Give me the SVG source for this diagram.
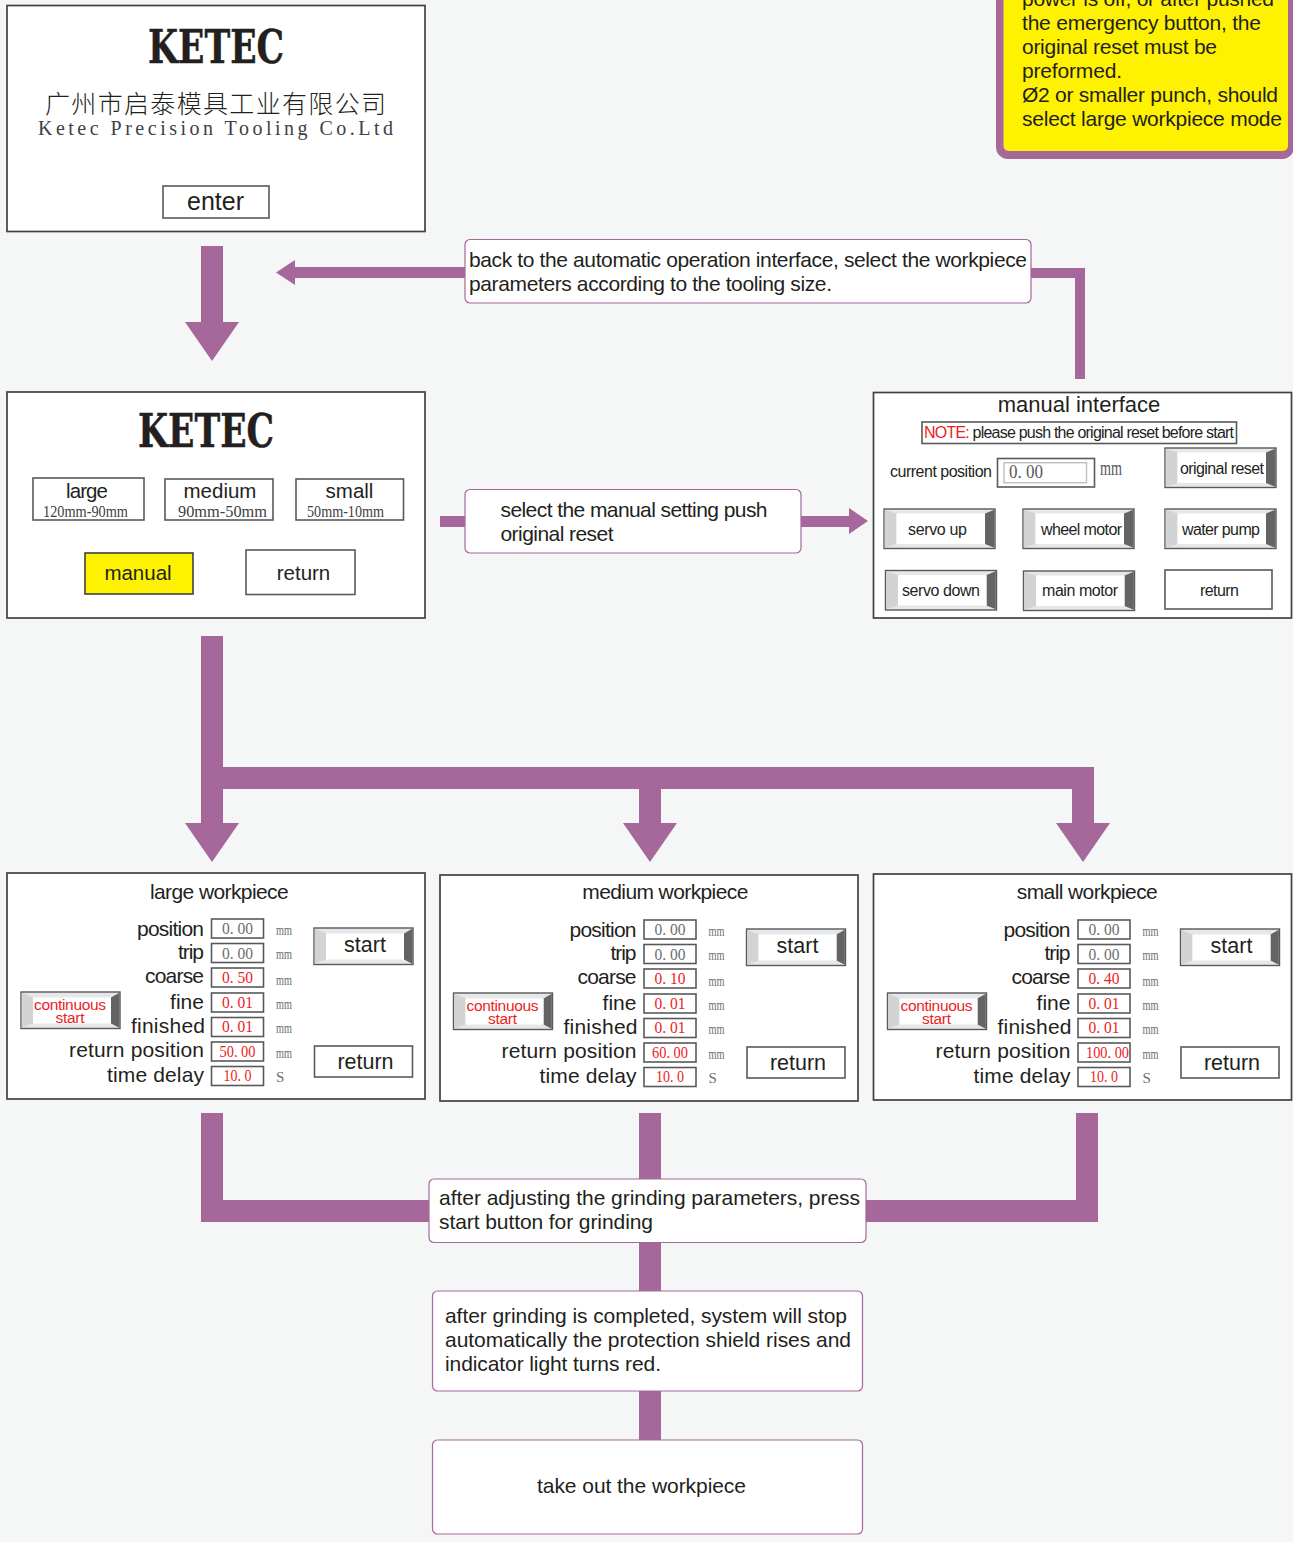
<svg xmlns="http://www.w3.org/2000/svg" width="1293" height="1542" viewBox="0 0 1293 1542">
<style>
text{font-family:"Liberation Sans",Arial,sans-serif;fill:#231f20}
.panel{fill:#fff;stroke:#414042;stroke-width:1.7}
.box{fill:#fff;stroke:#58595b;stroke-width:1.6}
.call{fill:#fff;stroke:#a6679a;stroke-width:1.2}
.flow{fill:#a6679a;stroke:none}
.ser{font-family:"Liberation Serif","Times New Roman",serif}
.logo{font-family:"DejaVu Serif",serif;font-weight:bold;font-size:46px;stroke:#231f20;stroke-width:.5}
.c21{font-size:21px}
.lab{font-size:21px}
.val{font-family:"Liberation Serif",serif;font-size:17px;text-anchor:middle;fill:#6d6e71}
.red{fill:#ed1c24}
.unit{font-family:"Liberation Serif",serif;font-size:15px;fill:#6d6e71}
.mid{text-anchor:middle}
.t20{font-size:20.5px}
.t21{font-size:21.5px}
.t16{font-size:16px}
.sub{font-family:"Liberation Serif",serif;font-size:17px;fill:#414042}
.bl{fill:#d1d3d4}.br{fill:#636466}.bt{fill:#e6e7e8}
</style>
<defs>
<g id="bw">
<rect x="0" y="0" width="99" height="36.5" fill="#e6e7e8" stroke="#58595b" stroke-width="1.4"/>
<polygon class="bl" points="0.7,0.7 12,5.5 12,31.5 0.7,35.8"/>
<polygon class="br" points="98.3,0.7 90,5.5 90,31.5 98.3,35.8"/>
<rect x="12" y="5.5" width="78" height="26" fill="#fff"/>
</g>
<g id="bm">
<rect x="0" y="0" width="111" height="39.5" fill="#e6e7e8" stroke="#58595b" stroke-width="1.4"/>
<polygon class="bl" points="0.7,0.7 12.5,4.5 12.5,35 0.7,38.8"/>
<polygon class="br" points="110.3,0.7 101,4.5 101,35 110.3,38.8"/>
<rect x="12.5" y="4.5" width="88.5" height="30.5" fill="#fff"/>
</g>
<g id="row-boxes">
<rect class="box" x="211.5" y="919" width="52" height="19"/>
<rect class="box" x="211.5" y="943.5" width="52" height="19"/>
<rect class="box" x="211.5" y="968" width="52" height="19"/>
<rect class="box" x="211.5" y="993" width="52" height="19"/>
<rect class="box" x="211.5" y="1017.5" width="52" height="19"/>
<rect class="box" x="211.5" y="1042" width="52" height="19"/>
<rect class="box" x="211.5" y="1066.5" width="52" height="19"/>
<text class="lab" x="137" y="936" textLength="67">position</text>
<text class="lab" x="178" y="959" textLength="26">trip</text>
<text class="lab" x="145" y="983" textLength="59">coarse</text>
<text class="lab" x="170" y="1009" textLength="34">fine</text>
<text class="lab" x="131" y="1033" textLength="74">finished</text>
<text class="lab" x="69" y="1057" textLength="135">return position</text>
<text class="lab" x="107" y="1082" textLength="97">time delay</text>
<text class="unit" x="276" y="935" textLength="16" lengthAdjust="spacingAndGlyphs">mm</text>
<text class="unit" x="276" y="959" textLength="16" lengthAdjust="spacingAndGlyphs">mm</text>
<text class="unit" x="276" y="985" textLength="16" lengthAdjust="spacingAndGlyphs">mm</text>
<text class="unit" x="276" y="1009" textLength="16" lengthAdjust="spacingAndGlyphs">mm</text>
<text class="unit" x="276" y="1033" textLength="16" lengthAdjust="spacingAndGlyphs">mm</text>
<text class="unit" x="276" y="1058" textLength="16" lengthAdjust="spacingAndGlyphs">mm</text>
<text class="unit" x="276" y="1082">S</text>
<text class="val" x="237.5" y="934" textLength="31" lengthAdjust="spacingAndGlyphs">0. 00</text>
<text class="val" x="237.5" y="958.5" textLength="31" lengthAdjust="spacingAndGlyphs">0. 00</text>
<use href="#bw" x="314" y="928"/>
<text class="mid t21" x="365" y="952">start</text>
<rect class="box" x="314.5" y="1046" width="98" height="31"/>
<text class="mid t21" x="365.500" y="1069">return</text>
<use href="#bw" x="21" y="992"/>
<text class="mid" x="70" y="1010" textLength="72" style="font-size:15.5px;fill:#ed1c24">continuous</text>
<text class="mid" x="70" y="1023" textLength="29" style="font-size:15.5px;fill:#ed1c24">start</text>
</g>
</defs>
<rect width="1293" height="1542" fill="#f4f7f6"/>
<g id="connectors">
<path class="flow" d="M201 246H223V322H239L212 361L185 322H201Z"/>
<path class="flow" d="M1085 379H1075V278H295V285L276 272.500L295 260V267H465V278H1031V268H1085Z"/>
<rect class="flow" x="440" y="516" width="25" height="11"/>
<path class="flow" d="M801 516H849V508L868 521L849 534V527H801Z"/>
<path class="flow" d="M201 636H223V767H1094V823H1110L1083 862L1056 823H1072V789H661V823H677L650 862L623 823H639V789H223V823H239L212 862L185 823H201Z"/>
<path class="flow" d="M201 1113H223V1200H429V1222H201Z"/>
<rect class="flow" x="639" y="1113" width="22" height="330"/>
<path class="flow" d="M1076 1113H1098V1222H866V1200H1076Z"/>
</g>
<g id="note">
<rect x="996" y="-30" width="298" height="189" rx="12" fill="#a6679a"/>
<rect x="1003.500" y="-30" width="284.500" height="181" rx="5" fill="#fff200"/>
<text class="c21" x="1022" y="6" textLength="252">power is off, or after pushed</text>
<text class="c21" x="1022" y="30" textLength="239">the emergency button, the</text>
<text class="c21" x="1022" y="54" textLength="195">original reset must be</text>
<text class="c21" x="1022" y="78" textLength="100">preformed.</text>
<text class="c21" x="1022" y="102" textLength="256">Ø2 or smaller punch, should</text>
<text class="c21" x="1022" y="126" textLength="260">select large workpiece mode</text>
</g>
<g id="start-screen">
<rect class="panel" x="7" y="5.500" width="418" height="226"/>
<text class="logo" x="148" y="63" textLength="136" lengthAdjust="spacingAndGlyphs">KETEC</text>
<text x="45" y="113" textLength="341" lengthAdjust="spacing" style="font-family:'Noto Sans CJK SC',sans-serif;font-size:25px;font-weight:300">广州市启泰模具工业有限公司</text>
<text class="ser" x="38" y="135" textLength="355" lengthAdjust="spacing" style="font-size:20px;fill:#414042">Ketec Precision Tooling Co.Ltd</text>
<rect class="box" x="163" y="186" width="106" height="32"/>
<text class="mid" x="215.500" y="210" style="font-size:25px">enter</text>
</g>
<g id="back-note">
<rect class="call" x="465" y="239.500" width="566" height="63.500" rx="5"/>
<text class="c21" x="469" y="267" textLength="558">back to the automatic operation interface, select the workpiece</text>
<text class="c21" x="469" y="291" textLength="363">parameters according to the tooling size.</text>
</g>
<g id="select-screen">
<rect class="panel" x="7" y="392" width="418" height="226"/>
<text class="logo" x="138" y="447" textLength="136" lengthAdjust="spacingAndGlyphs">KETEC</text>
<rect class="box" x="33" y="478" width="111" height="42"/>
<text class="mid t20" x="87" y="498" textLength="42">large</text>
<text class="sub" x="43" y="517" textLength="85" lengthAdjust="spacingAndGlyphs">120mm-90mm</text>
<rect class="box" x="165" y="479" width="108" height="41"/>
<text class="mid t20" x="220" y="498">medium</text>
<text class="sub" x="178" y="517" textLength="89" lengthAdjust="spacingAndGlyphs">90mm-50mm</text>
<rect class="box" x="296" y="479" width="107.500" height="41"/>
<text class="mid t20" x="349.500" y="498">small</text>
<text class="sub" x="307" y="517" textLength="77" lengthAdjust="spacingAndGlyphs">50mm-10mm</text>
<rect x="85" y="553" width="108" height="41" fill="#fff200" stroke="#414042" stroke-width="1.600"/>
<text class="mid t20" x="138" y="580">manual</text>
<rect class="box" x="246" y="550" width="109" height="44.500"/>
<text class="mid t20" x="303.500" y="580">return</text>
</g>
<g id="select-note">
<rect class="call" x="465" y="489.500" width="336" height="63.500" rx="5"/>
<text class="c21" x="500.500" y="517" textLength="267">select the manual setting push</text>
<text class="c21" x="500.500" y="541" textLength="113">original reset</text>
</g>
<g id="manual-screen">
<rect class="panel" x="873.500" y="392.500" width="418" height="225.500"/>
<text class="mid" x="1079" y="412" style="font-size:22px">manual interface</text>
<rect class="box" x="922" y="422" width="314.500" height="21.500"/>
<text x="924" y="438" class="t16" textLength="310"><tspan style="fill:#ed1c24">NOTE:</tspan> please push the original reset before start</text>
<text x="890" y="477" class="t16" textLength="102">current position</text>
<rect class="box" x="997.500" y="458.500" width="97" height="28.500"/>
<rect x="1004" y="462.700" width="82.500" height="20" fill="#fff" stroke="#bcbec0" stroke-width="1.400"/>
<text class="ser" x="1009" y="478" textLength="34" lengthAdjust="spacingAndGlyphs" style="font-size:19px;fill:#58595b">0. 00</text>
<text class="ser" x="1100" y="475" textLength="22" lengthAdjust="spacingAndGlyphs" style="font-size:20px;fill:#58595b">mm</text>
<use href="#bm" x="1165" y="448"/>
<text class="t16" x="1180" y="474" textLength="84">original reset</text>
<use href="#bm" x="884" y="509"/>
<text class="t16" x="908" y="535" textLength="59">servo up</text>
<use href="#bm" x="1023" y="509"/>
<text class="t16" x="1041" y="535" textLength="81">wheel motor</text>
<use href="#bm" x="1165" y="509"/>
<text class="t16" x="1182" y="535" textLength="78">water pump</text>
<use href="#bm" x="885.500" y="570.500"/>
<text class="t16" x="902" y="596" textLength="78">servo down</text>
<use href="#bm" x="1023.500" y="571"/>
<text class="t16" x="1042" y="596" textLength="76">main motor</text>
<rect class="box" x="1165" y="570" width="107" height="39"/>
<text class="t16" x="1200" y="596" textLength="39">return</text>
</g>
<g id="large-workpiece">
<rect class="panel" x="7" y="873" width="418" height="226"/>
<text class="mid" x="219" y="899" style="font-size:21px;letter-spacing:-.6px">large workpiece</text>
<use href="#row-boxes"/>
<text class="val red" x="237.500" y="983" textLength="31" lengthAdjust="spacingAndGlyphs">0. 50</text>
<text class="val red" x="237.500" y="1008" textLength="31" lengthAdjust="spacingAndGlyphs">0. 01</text>
<text class="val red" x="237.500" y="1032" textLength="31" lengthAdjust="spacingAndGlyphs">0. 01</text>
<text class="val red" x="237.500" y="1057" textLength="36" lengthAdjust="spacingAndGlyphs">50. 00</text>
<text class="val red" x="237.500" y="1081" textLength="28" lengthAdjust="spacingAndGlyphs">10. 0</text>
</g>
<g id="medium-workpiece">
<rect class="panel" x="440" y="875" width="418" height="226"/>
<text class="mid" x="665" y="899" style="font-size:21px;letter-spacing:-.6px">medium workpiece</text>
<g transform="translate(432.500 1)">
<use href="#row-boxes"/>
<text class="val red" x="237.500" y="983" textLength="31" lengthAdjust="spacingAndGlyphs">0. 10</text>
<text class="val red" x="237.500" y="1008" textLength="31" lengthAdjust="spacingAndGlyphs">0. 01</text>
<text class="val red" x="237.500" y="1032" textLength="31" lengthAdjust="spacingAndGlyphs">0. 01</text>
<text class="val red" x="237.500" y="1057" textLength="36" lengthAdjust="spacingAndGlyphs">60. 00</text>
<text class="val red" x="237.500" y="1081" textLength="28" lengthAdjust="spacingAndGlyphs">10. 0</text>
</g>
</g>
<g id="small-workpiece">
<rect class="panel" x="873.500" y="874" width="418" height="226"/>
<text class="mid" x="1087" y="899" style="font-size:21px;letter-spacing:-.6px">small workpiece</text>
<g transform="translate(866.500 1)">
<use href="#row-boxes"/>
<text class="val red" x="237.500" y="983" textLength="31" lengthAdjust="spacingAndGlyphs">0. 40</text>
<text class="val red" x="237.500" y="1008" textLength="31" lengthAdjust="spacingAndGlyphs">0. 01</text>
<text class="val red" x="237.500" y="1032" textLength="31" lengthAdjust="spacingAndGlyphs">0. 01</text>
<text class="val red" x="241" y="1057" textLength="43" lengthAdjust="spacingAndGlyphs">100. 00</text>
<text class="val red" x="237.500" y="1081" textLength="28" lengthAdjust="spacingAndGlyphs">10. 0</text>
</g>
</g>
<g id="adjust-note">
<rect class="call" x="429" y="1179" width="437" height="63.500" rx="5"/>
<text class="c21" x="439" y="1205" textLength="421">after adjusting the grinding parameters, press</text>
<text class="c21" x="439" y="1229" textLength="214">start button for grinding</text>
</g>
<g id="complete-note">
<rect class="call" x="432.500" y="1291" width="430" height="100" rx="5"/>
<text class="c21" x="445" y="1323" textLength="402">after grinding is completed, system will stop</text>
<text class="c21" x="445" y="1347" textLength="406">automatically the protection shield rises and</text>
<text class="c21" x="445" y="1371" textLength="216">indicator light turns red.</text>
</g>
<g id="takeout-note">
<rect class="call" x="432.500" y="1440" width="430" height="94" rx="5"/>
<text class="c21" x="537" y="1493" textLength="209">take out the workpiece</text>
</g>
</svg>
